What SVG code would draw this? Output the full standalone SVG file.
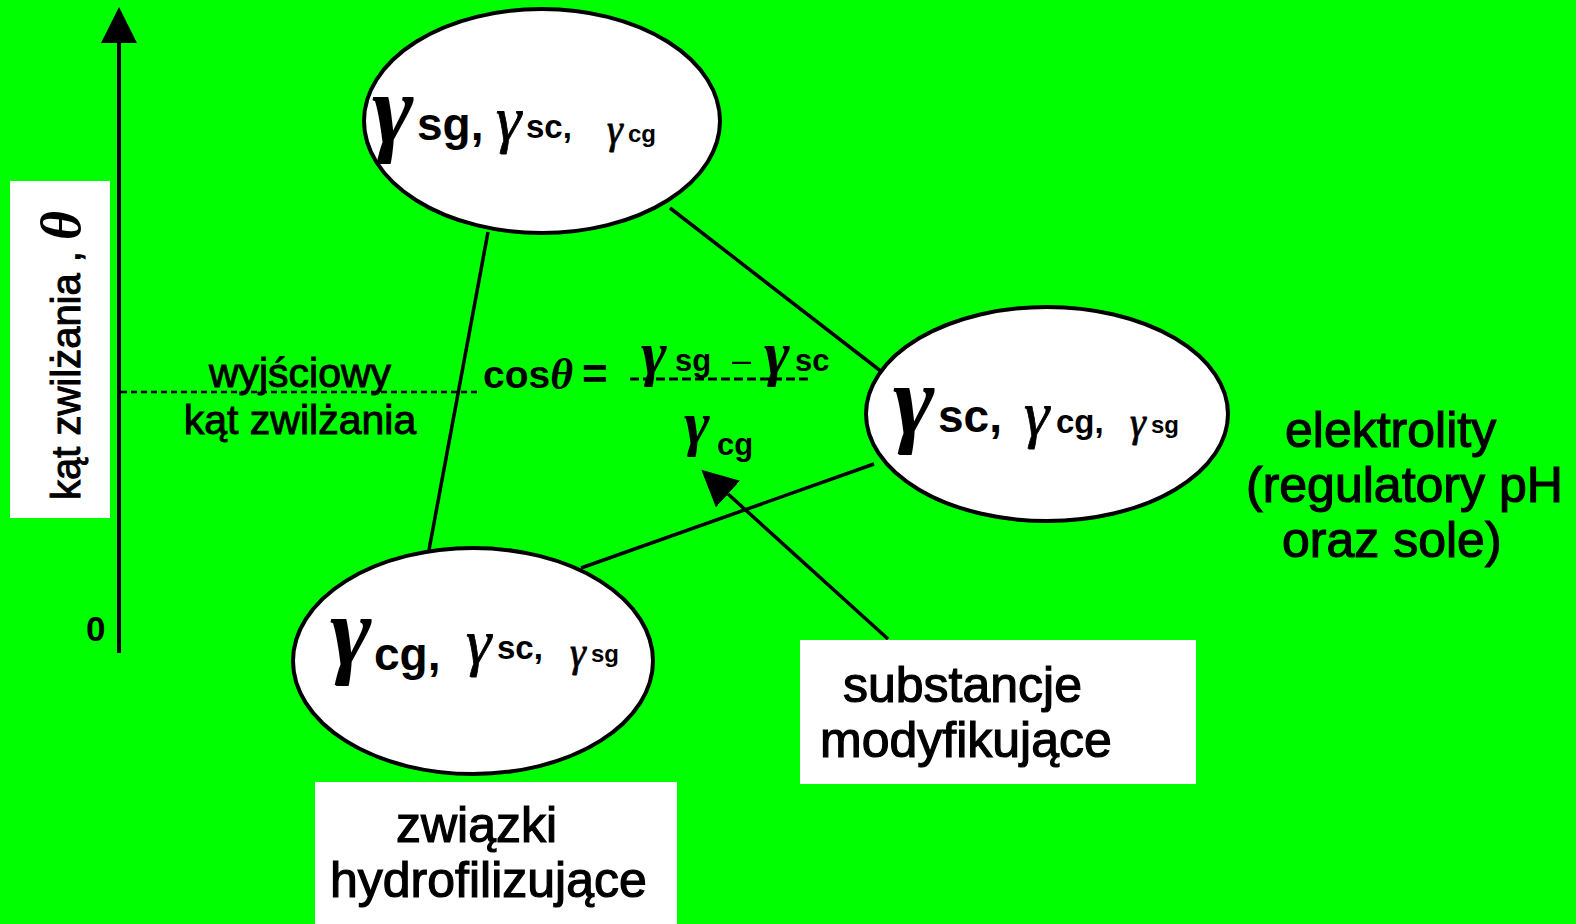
<svg xmlns="http://www.w3.org/2000/svg" width="1576" height="924" viewBox="0 0 1576 924">
  <defs>
    <style>
      .sans { font-family: "Liberation Sans", Arial, sans-serif; fill: #000; }
      .b { font-weight: bold; }
      .heavy { stroke: #000; stroke-width: 1; }
      .greek { font-family: "Liberation Serif", "Times New Roman", serif; font-style: italic; font-weight: bold; fill: #000; }
      .thin { font-weight: normal; stroke: #000; stroke-width: 0.8; }
      .lbl { font-family: "Liberation Sans", Arial, sans-serif; font-size: 50px; fill: #000; stroke: #000; stroke-width: 1.2; }
      .node { fill: #fff; stroke: #000; stroke-width: 4; }
      .edge { stroke: #000; stroke-width: 3.5; fill: none; }
      .box { fill: #fff; }
    </style>
    <marker id="head" markerUnits="userSpaceOnUse" markerWidth="40" markerHeight="40" refX="0" refY="18" orient="auto">
      <path d="M0,0 L36,18 L0,36 Z" fill="#000"/>
    </marker>
  </defs>

  <!-- background -->
  <rect x="0" y="0" width="1576" height="924" fill="#00ff00"/>

  <!-- vertical axis: wetting angle -->
  <g id="axis">
    <line x1="119" y1="653" x2="119" y2="40" stroke="#000" stroke-width="4"/>
    <polygon points="119,7 137,43 101,43" fill="#000"/>
    <text class="sans b" x="86" y="641" font-size="35">0</text>
    <rect class="box" x="10" y="181" width="100" height="337"/>
    <text class="sans heavy" transform="translate(80,500) rotate(-90)" font-size="40">kąt zwilżania , <tspan class="greek" font-size="56" stroke-width="0">θ</tspan></text>
  </g>

  <!-- initial angle reference line -->
  <g id="initial-angle">
    <line x1="121" y1="392" x2="478" y2="392" stroke="#000" stroke-width="2.5" stroke-dasharray="6 4"/>
    <text class="sans heavy" x="300" y="387" font-size="41" text-anchor="middle">wyjściowy</text>
    <text class="sans heavy" x="300" y="434" font-size="41" text-anchor="middle">kąt zwilżania</text>
  </g>

  <!-- connectors -->
  <g id="connectors">
    <line class="edge" x1="488" y1="232" x2="429" y2="550"/>
    <line class="edge" x1="670" y1="208" x2="882" y2="372"/>
    <line class="edge" x1="581" y1="568" x2="874" y2="464"/>
    <line class="edge" x1="888" y1="639" x2="728" y2="494" marker-end="url(#head)"/>
  </g>

  <!-- Young equation -->
  <g id="equation">
    <text class="sans b" x="483" y="388" font-size="39">cos<tspan class="greek" font-size="44" font-weight="normal" dy="1">θ</tspan></text>
    <text class="sans b" x="582" y="389" font-size="44">=</text>
    <line x1="630" y1="379" x2="812" y2="379" stroke="#000" stroke-width="3" stroke-dasharray="9 4"/>
    <text class="greek" x="641" y="374" font-size="62">γ</text>
    <text class="sans b" x="675" y="371" font-size="31">sg</text>
    <text class="sans" x="732" y="371" font-size="34">–</text>
    <text class="greek" x="764" y="374" font-size="62">γ</text>
    <text class="sans b" x="795" y="371" font-size="31">sc</text>
    <text class="greek" x="684" y="444" font-size="62">γ</text>
    <text class="sans b" x="717" y="455" font-size="31">cg</text>
  </g>

  <!-- solid / gas node -->
  <g id="node-sg">
    <ellipse class="node" cx="542" cy="121" rx="178" ry="112"/>
    <text class="greek" x="372" y="143" font-size="100">γ</text>
    <text class="sans b" x="417" y="140" font-size="46">sg,</text>
    <text class="greek thin" x="496" y="140" font-size="64">γ</text>
    <text class="sans b" x="526" y="138" font-size="33">sc,</text>
    <text class="greek thin" x="607" y="143" font-size="40">γ</text>
    <text class="sans b" x="628" y="142" font-size="24">cg</text>
  </g>

  <!-- solid / liquid node -->
  <g id="node-sc">
    <ellipse class="node" cx="1047" cy="414" rx="181" ry="107"/>
    <text class="greek" x="893" y="434" font-size="100">γ</text>
    <text class="sans b" x="938" y="432" font-size="46">sc,</text>
    <text class="greek thin" x="1024" y="435" font-size="64">γ</text>
    <text class="sans b" x="1056" y="433" font-size="33">cg,</text>
    <text class="greek thin" x="1130" y="436" font-size="40">γ</text>
    <text class="sans b" x="1151" y="433" font-size="24">sg</text>
  </g>

  <!-- liquid / gas node -->
  <g id="node-cg">
    <ellipse class="node" cx="473" cy="661" rx="180" ry="113"/>
    <text class="greek" x="330" y="665" font-size="100">γ</text>
    <text class="sans b" x="374" y="670" font-size="46">cg,</text>
    <text class="greek thin" x="466" y="663" font-size="64">γ</text>
    <text class="sans b" x="497" y="659" font-size="33">sc,</text>
    <text class="greek thin" x="570" y="666" font-size="40">γ</text>
    <text class="sans b" x="591" y="662" font-size="24">sg</text>
  </g>

  <!-- electrolytes label -->
  <g id="label-electrolytes">
    <text class="lbl" x="1285" y="447">elektrolity</text>
    <text class="lbl" x="1246" y="502">(regulatory pH</text>
    <text class="lbl" x="1282" y="557">oraz sole)</text>
  </g>

  <!-- modifiers label -->
  <g id="label-modifiers">
    <rect class="box" x="800" y="640" width="396" height="144"/>
    <text class="lbl" x="843" y="702">substancje</text>
    <text class="lbl" x="820" y="757">modyfikujące</text>
  </g>

  <!-- hydrophilising compounds label -->
  <g id="label-hydrophilic">
    <rect class="box" x="315" y="782" width="362" height="142"/>
    <text class="lbl" x="396" y="842">związki</text>
    <text class="lbl" x="330" y="897">hydrofilizujące</text>
  </g>
</svg>
